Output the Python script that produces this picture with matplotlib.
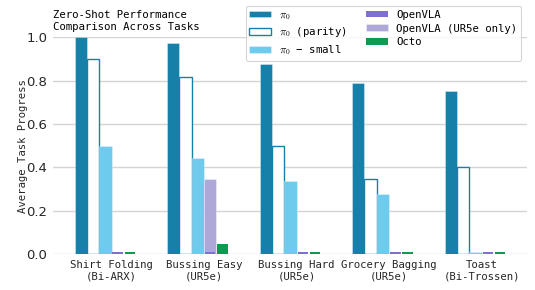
import numpy as np
import matplotlib
matplotlib.use("Agg")
import matplotlib.pyplot as plt

plt.rcParams['mathtext.fontset'] = 'cm'
MONO = ['DejaVu Sans Mono']

tasks = ["Shirt Folding\n(Bi-ARX)", "Bussing Easy\n(UR5e)", "Bussing Hard\n(UR5e)",
         "Grocery Bagging\n(UR5e)", "Toast\n(Bi-Trossen)"]
pi0 = [1.0, 0.975, 0.875, 0.79, 0.75]
pi0_parity = [0.9, 0.815, 0.5, 0.345, 0.4]
pi0_small = [0.5, 0.445, 0.335, 0.275, 0.008]
openvla = [0.008, 0.008, 0.008, 0.008, 0.008]
openvla_ur5e = [np.nan, 0.345, 0.0, 0.0, np.nan]
octo = [0.008, 0.045, 0.008, 0.008, 0.008]
yticks = [0.0, 0.2, 0.4, 0.6, 0.8, 1.0]

c_pi0 = '#1780a8'
c_small = '#6ecbed'
c_ovla = '#7d70d2'
c_ovla_u = '#ada8d7'
c_octo = '#0c9b50'

fig = plt.figure(figsize=(5.35, 2.9), dpi=100)
ax = fig.add_axes([0.099, 0.124, 0.886, 0.748])

x = np.arange(len(tasks))
w = 0.8 / 6
off = lambda i: (i - 2.5) * w
ec = (1, 1, 1, 0.6)
lw = 0.4

ax.bar(x + off(0), pi0, w, color=c_pi0, edgecolor=ec, linewidth=lw, label=r'$\pi_0$', zorder=3)
ax.bar(x + off(1), pi0_parity, w, facecolor='white', edgecolor=c_pi0, linewidth=1.0,
       label=r'$\pi_0$ (parity)', zorder=3)
ax.bar(x + off(2), pi0_small, w, color=c_small, edgecolor=ec, linewidth=lw,
       label=r'$\pi_0$ − small', zorder=3)
ax.bar(x + off(3), openvla, w * 0.85, color=c_ovla, linewidth=0,
       label='OpenVLA', zorder=4)
ax.bar(x + off(3), openvla_ur5e, w, color=c_ovla_u, edgecolor=ec, linewidth=lw,
       label='OpenVLA (UR5e only)', zorder=3)
ax.bar(x + off(4), octo, w * 0.85, color=c_octo, linewidth=0, label='Octo', zorder=3)

ax.set_ylim(0, 1.0)
ax.set_yticks(yticks)
ax.set_yticklabels([f"{v:.1f}" for v in yticks], fontsize=9.5, color='#262626')
ax.set_xticks(x)
ax.set_xticklabels(tasks, family=MONO, fontsize=7.7, color='#262626', linespacing=1.3)
ax.tick_params(axis='both', length=0, pad=4)
ax.set_ylabel("Average Task Progress", family=MONO, fontsize=7.7, color='#262626', labelpad=-1)
ax.yaxis.grid(True, color='#d4d4d4', linewidth=1.0, zorder=0)
ax.set_axisbelow(True)
for s in ax.spines.values():
    s.set_visible(False)

ax.set_title("Zero-Shot Performance\nComparison Across Tasks", family=MONO, fontsize=7.7,
             loc='left', pad=5, linespacing=1.3)

handles, labels = ax.get_legend_handles_labels()
leg = fig.legend(handles, labels, loc='upper right', bbox_to_anchor=(0.974, 0.979), ncol=2,
                 prop={'family': MONO, 'size': 7.7}, frameon=True, fancybox=True,
                 handlelength=2.0, handleheight=0.6, handletextpad=0.8, columnspacing=1.8,
                 labelspacing=0.35, borderpad=0.35, borderaxespad=0)
leg.get_frame().set_edgecolor('#cccccc')
leg.get_frame().set_linewidth(0.8)

fig.savefig("out.png", dpi=100)
